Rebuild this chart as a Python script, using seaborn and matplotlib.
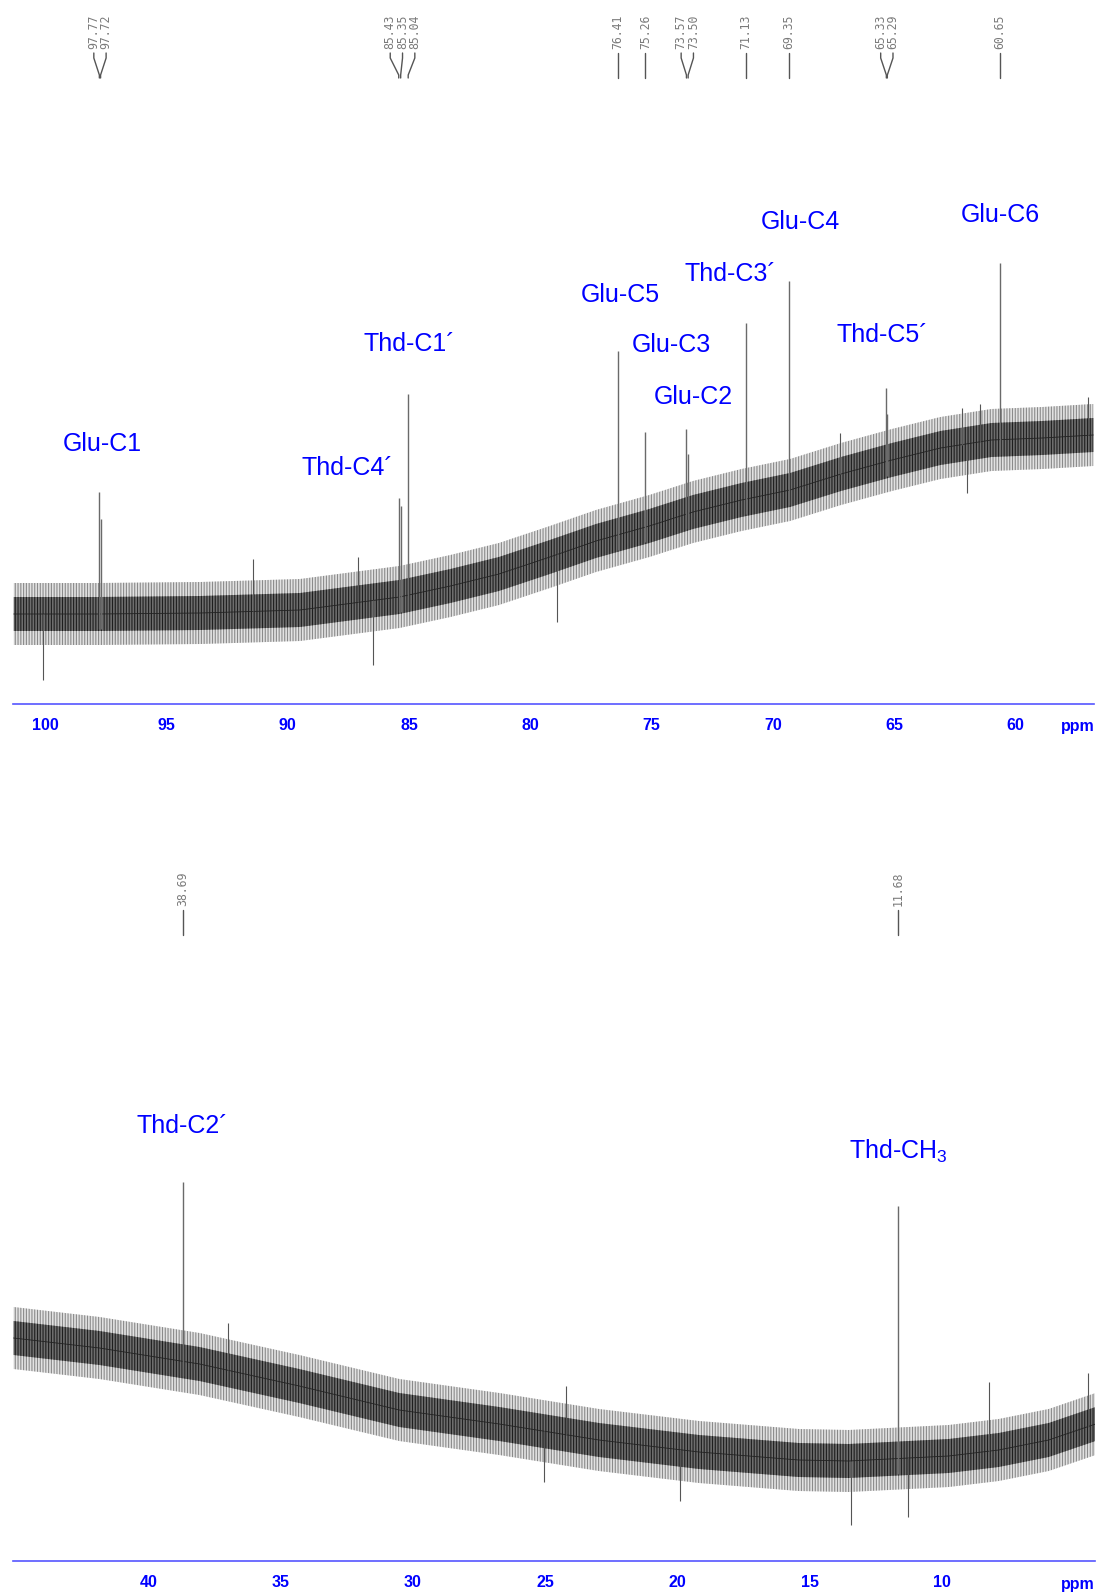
import numpy as np
import matplotlib
matplotlib.use("Agg")
import matplotlib.pyplot as plt
import matplotlib.transforms as mtransforms
from matplotlib.ticker import MultipleLocator
import seaborn as sns

# ---- top spectrum (101 - 57 ppm) ----
top_base_ppm = [101.3, 97.8, 93.6, 89.5, 85.4, 83.3, 81.3, 79.2, 77.3, 75.1,
                73.3, 71.3, 69.3, 67.2, 65.1, 63.1, 61.0, 58.9, 56.8]
top_base_int = [9.0, 9.0, 9.1, 9.4, 10.7, 11.8, 13.0, 14.7, 16.3, 17.8,
                19.2, 20.4, 21.4, 23.0, 24.4, 25.6, 26.4, 26.6, 26.9]
top_peak_ppm = [97.77, 97.72, 85.43, 85.35, 85.04, 76.41, 75.26, 73.57, 73.50,
                71.13, 69.35, 65.33, 65.29, 60.65]
top_peak_int = [21.2, 18.5, 20.6, 19.8, 31.0, 35.3, 27.2, 27.5, 25.0,
                38.1, 42.3, 31.6, 29.0, 44.1]
top_spike_ppm = [100.08, 91.45, 87.1, 86.5, 78.9, 67.23, 62.2, 62.0, 61.45, 57.0]
top_spike_int = [2.4, 14.5, 14.7, 3.9, 8.2, 27.1, 29.6, 21.1, 30.0, 30.7]
top_assign = ["Glu-C1", "Thd-C4´", "Thd-C1´", "Glu-C5", "Glu-C3", "Glu-C2",
              "Thd-C3´", "Glu-C4", "Thd-C5´", "Glu-C6"]
top_ticks = [100, 95, 90, 85, 80, 75, 70, 65, 60]
top_ticklabels = ["100", "95", "90", "85", "80", "75", "70", "65", "60"]

# ---- bottom spectrum (45 - 4 ppm) ----
bot_base_ppm = [45.1, 41.85, 38.07, 34.3, 30.52, 26.74, 22.97, 19.19, 15.42,
                13.53, 9.75, 7.86, 5.97, 4.2]
bot_base_int = [22.3, 21.3, 19.7, 17.5, 15.1, 13.7, 12.1, 10.9, 10.1,
                10.0, 10.5, 11.1, 12.1, 13.7]
bot_peak_ppm = [38.69, 11.68]
bot_peak_int = [37.9, 35.5]
bot_spike_ppm = [37.0, 25.05, 24.2, 19.9, 13.45, 11.3, 8.24, 4.5]
bot_spike_int = [23.8, 7.9, 17.5, 6.0, 3.6, 4.4, 17.9, 18.8]
bot_assign = ["Thd-C2´", "Thd-CH$_\\mathregular{3}$"]
bot_ticks = [45, 40, 35, 30, 25, 20, 15, 10, 5]
bot_ticklabels = ["", "40", "35", "30", "25", "20", "15", "10", ""]

# label placement (ppm, intensity) - layout only
top_assign_pos = [(97.65, 26.0), (87.56, 23.6), (85.01, 36.0), (76.30, 40.9),
                  (74.20, 35.9), (73.29, 30.7), (71.74, 43.0), (68.89, 48.2),
                  (65.50, 36.9), (60.64, 48.9)]
bot_assign_pos = [(38.72, 43.5), (11.64, 41.0)]

FIG_W, FIG_H = 1099, 1593
AX_L, AX_R = 13, 1094.5
AX_H = 600  # px, 10 px per intensity unit
NOISE_CORE, NOISE_OUTER = 1.7, 3.1
BLUE = "#0000ff"

sns.set_style("white")
plt.rcParams["font.family"] = ["Liberation Sans", "DejaVu Sans"]
plt.rcParams["mathtext.fontset"] = "custom"
plt.rcParams["mathtext.rm"] = "Liberation Sans"
plt.rcParams["hatch.linewidth"] = 0.8

fig = plt.figure(figsize=(FIG_W / 100, FIG_H / 100), dpi=100)


def group_peaks(ppms, gap=0.45):
    groups = [[0]]
    for i in range(1, len(ppms)):
        if ppms[i - 1] - ppms[i] < gap:
            groups[-1].append(i)
        else:
            groups.append([i])
    return groups


def draw_panel(axis_px, xlim, base_ppm, base_int, peak_ppm, peak_int,
               spike_ppm, spike_int, assign, assign_pos, ticks, ticklabels):
    ax = fig.add_axes([AX_L / FIG_W, 1 - axis_px / FIG_H,
                       (AX_R - AX_L) / FIG_W, AX_H / FIG_H])
    ax.set_xlim(*xlim)
    ax.set_ylim(0, AX_H / 10)

    bp = np.array(base_ppm)
    bi = np.array(base_int)
    # noise ribbon
    ax.fill_between(bp, bi - NOISE_OUTER, bi + NOISE_OUTER, facecolor="#e2e2e2",
                    edgecolor="#8a8a8a", hatch="||||||", linewidth=0)
    ax.fill_between(bp, bi - NOISE_CORE, bi + NOISE_CORE, facecolor="#6e6e6e",
                    edgecolor="#1e1e1e", hatch="||||||", linewidth=0)
    sns.lineplot(x=bp, y=bi, ax=ax, color="#222222", linewidth=0.6, sort=False)

    # noise spikes
    sp_base = np.interp(spike_ppm, bp[::-1], bi[::-1])
    ax.vlines(spike_ppm, sp_base, spike_int, color="#555555", linewidth=0.8)
    # peaks
    pk_base = np.interp(peak_ppm, bp[::-1], bi[::-1]) - 1.5
    ax.vlines(peak_ppm, pk_base, peak_int, color="#6a6a6a", linewidth=1.0)

    # assignments
    for txt, (x, y) in zip(assign, assign_pos):
        ax.text(x, y, txt, color=BLUE, fontsize=18, ha="center", va="center")

    # axis styling
    for s in ["top", "left", "right"]:
        ax.spines[s].set_visible(False)
    ax.spines["bottom"].set_color("#5555ff")
    ax.spines["bottom"].set_linewidth(1.2)
    ax.set_yticks([])
    ax.set_xticks(ticks)
    ax.set_xticklabels(ticklabels)
    ax.xaxis.set_minor_locator(MultipleLocator(1))
    ax.tick_params(axis="x", which="major", direction="out", length=6.5,
                   width=1.0, color="#4444ff", labelcolor=BLUE, labelsize=11.5,
                   pad=3.5)
    ax.tick_params(axis="x", which="minor", direction="out", length=2.5,
                   width=0.9, color="#4444ff")
    for lab in ax.get_xticklabels():
        lab.set_fontweight("bold")
    fig.text(AX_R / FIG_W, 1 - (axis_px + 23) / FIG_H, "ppm", color=BLUE,
             fontsize=11.5, fontweight="bold", ha="right", va="center")

    # peak-pick labels on top
    tr = mtransforms.blended_transform_factory(ax.transData, fig.transFigure)
    px_per_ppm = (AX_R - AX_L) / (xlim[0] - xlim[1])
    step = 12.3 / px_per_ppm

    def fy(off):
        return 1 - (axis_px - off) / FIG_H

    for g in group_peaks(peak_ppm):
        center = np.mean([peak_ppm[i] for i in g])
        n = len(g)
        for j, i in enumerate(g):
            lx = center + ((n - 1) / 2 - j) * step
            px = peak_ppm[i]
            ax.text(lx, fy(655), f"{px:.2f}", rotation=90, ha="center",
                    va="bottom", transform=tr, family="DejaVu Sans Mono",
                    fontsize=8.3, color="#7a7a7a")
            ax.plot([lx, lx, px, px], [fy(651), fy(646), fy(629), fy(626)],
                    transform=tr, color="#555555", linewidth=1.0,
                    clip_on=False)
    return ax


draw_panel(704, (101.33, 56.75), top_base_ppm, top_base_int, top_peak_ppm,
           top_peak_int, top_spike_ppm, top_spike_int, top_assign,
           top_assign_pos, top_ticks, top_ticklabels)
draw_panel(1561, (45.12, 4.24), bot_base_ppm, bot_base_int, bot_peak_ppm,
           bot_peak_int, bot_spike_ppm, bot_spike_int, bot_assign,
           bot_assign_pos, bot_ticks, bot_ticklabels)

fig.savefig("out.png", dpi=100)
